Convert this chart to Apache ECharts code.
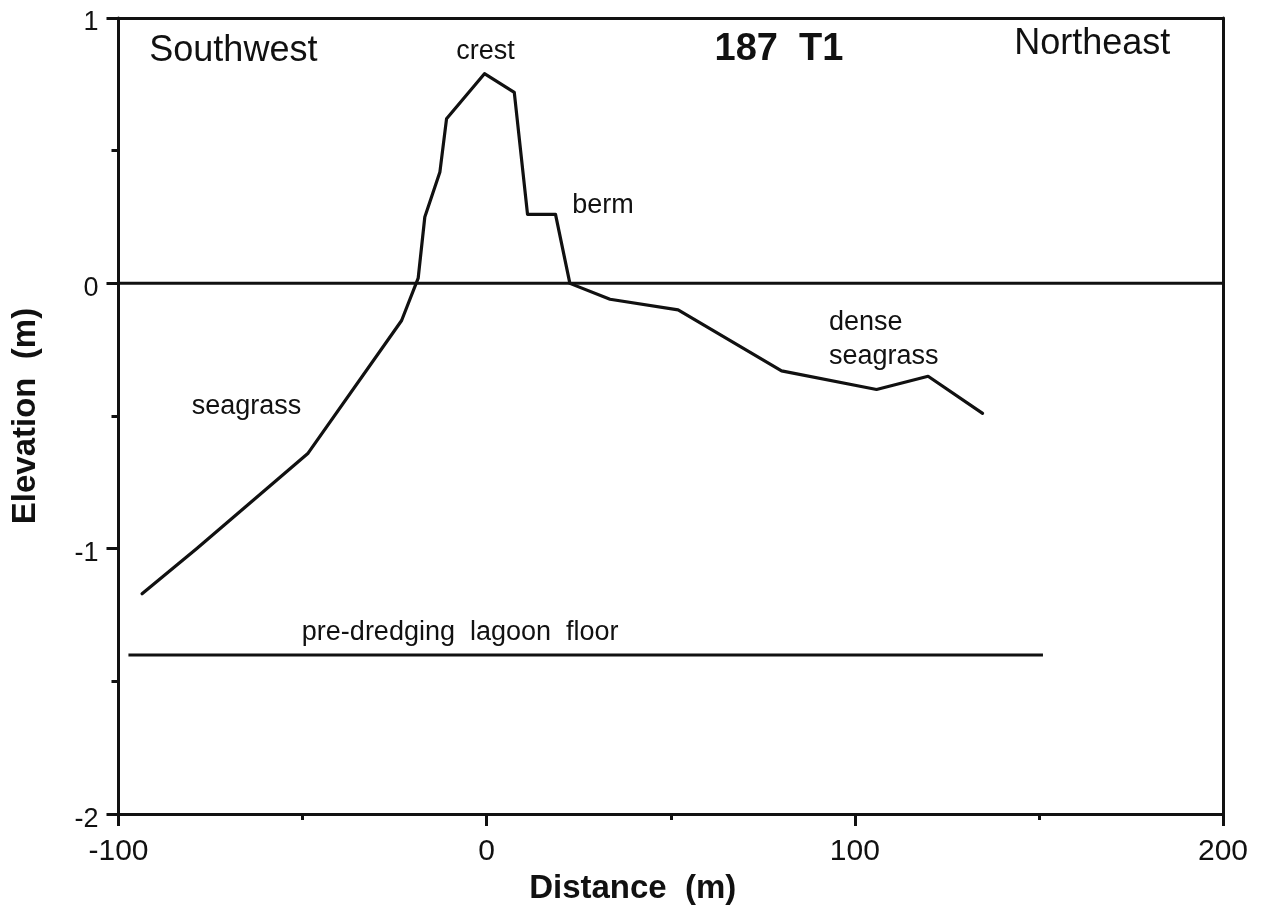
<!DOCTYPE html>
<html>
<head>
<meta charset="utf-8">
<script src="https://cdn.jsdelivr.net/npm/echarts@6/dist/echarts.min.js"></script>
<style>
  html, body { margin: 0; padding: 0; background: #ffffff; }
  #chart { width: 1270px; height: 910px; }
</style>
</head>
<body>
<div id="chart"></div>
<script>
// Transect 187 T1: surveyed elevation (m) against distance (m) along the profile
const profileDistance = [-93.6, -78.8, -48.5, -23.1, -18.6, -16.8, -12.7, -10.9, -0.6, 7.5, 11.1, 18.7, 22.6, 33.5, 52.0, 80.1, 105.9, 119.9, 134.7];
const profileElevation = [-1.17, -1.0, -0.64, -0.14, 0.02, 0.25, 0.42, 0.62, 0.79, 0.72, 0.26, 0.26, 0.0, -0.06, -0.10, -0.33, -0.40, -0.35, -0.49];

// Lagoon floor before dredging
const floorDistance = [-97.3, 151.1];
const floorElevation = [-1.4, -1.4];

// Still-water reference level
const datumDistance = [-100, 200];
const datumElevation = [0, 0];

// Axis ranges and tick steps
const xRange = [-100, 200];
const xStep = 100;
const yRange = [-2, 1];
const yStep = 1;

// Annotations placed in data coordinates
const noteText = ['Southwest', 'crest', '187  T1', 'Northeast', 'berm', 'dense', 'seagrass', 'seagrass', 'pre-dredging  lagoon  floor'];
const noteDistance = [-68.8, -0.3, 79.4, 164.5, 31.6, 93.0, 93.0, -80.1, -50.2];
const noteElevation = [0.876, 0.875, 0.880, 0.900, 0.295, -0.146, -0.277, -0.465, -1.315];

const INK = '#111111';
const FONT = '"Liberation Sans", Arial, Helvetica, sans-serif';

function pairs(xs, ys) { return xs.map((x, i) => [x, ys[i]]); }

function noteLabel(text) {
  if (text === 'Southwest' || text === 'Northeast') {
    return { fontSize: 36, fontWeight: 'normal', align: 'center' };
  }
  if (text === '187  T1') {
    return { fontSize: 38, fontWeight: 'bold', align: 'center' };
  }
  if (text === 'crest' || text === 'berm') {
    return { fontSize: 27, fontWeight: 'normal', align: 'center' };
  }
  return { fontSize: 27, fontWeight: 'normal', align: 'left' };
}

const noteData = noteText.map((t, i) => {
  const s = noteLabel(t);
  return {
    value: [noteDistance[i], noteElevation[i]],
    name: t,
    label: {
      show: true,
      formatter: t,
      position: [0, 0],
      align: s.align,
      verticalAlign: 'middle',
      fontSize: s.fontSize,
      fontWeight: s.fontWeight,
      fontFamily: FONT,
      color: INK
    }
  };
});

const chart = echarts.init(document.getElementById('chart'), null, { renderer: 'canvas' });

const frameLine = { show: true, onZero: false, lineStyle: { color: INK, width: 3 } };

chart.setOption({
  backgroundColor: '#ffffff',
  animation: false,
  grid: { left: 118.5, right: 47, top: 18, bottom: 90.5, containLabel: false },
  xAxis: [
    {
      type: 'value',
      position: 'bottom',
      min: xRange[0], max: xRange[1], interval: xStep,
      axisLine: frameLine,
      axisTick: { show: true, inside: false, length: 12, lineStyle: { color: INK, width: 3 } },
      minorTick: { show: true, splitNumber: 2, length: 6, lineStyle: { color: INK, width: 3 } },
      splitLine: { show: false },
      axisLabel: { color: INK, fontSize: 30, fontFamily: FONT, margin: 23 },
      name: 'Distance  (m)',
      nameLocation: 'middle',
      nameGap: 50,
      nameTextStyle: { color: INK, fontSize: 33, fontWeight: 'bold', fontFamily: FONT, padding: [0, 76, 0, 0] }
    },
    {
      type: 'value',
      position: 'top',
      min: xRange[0], max: xRange[1], interval: xStep,
      axisLine: frameLine,
      axisTick: { show: false },
      axisLabel: { show: false },
      splitLine: { show: false }
    }
  ],
  yAxis: [
    {
      type: 'value',
      position: 'left',
      min: yRange[0], max: yRange[1], interval: yStep,
      axisLine: frameLine,
      axisTick: { show: true, inside: false, length: 12, lineStyle: { color: INK, width: 3 } },
      minorTick: { show: true, splitNumber: 2, length: 7, lineStyle: { color: INK, width: 3 } },
      splitLine: { show: false },
      axisLabel: {
        margin: 20,
        formatter: '{v|{value}}',
        rich: { v: { color: INK, fontSize: 27, fontFamily: FONT, padding: [10, 0, 0, 0] } }
      },
      name: 'Elevation  (m)',
      nameLocation: 'middle',
      nameGap: 76,
      nameTextStyle: { color: INK, fontSize: 33, fontWeight: 'bold', fontFamily: FONT }
    },
    {
      type: 'value',
      position: 'right',
      min: yRange[0], max: yRange[1], interval: yStep,
      axisLine: frameLine,
      axisTick: { show: false },
      axisLabel: { show: false },
      splitLine: { show: false }
    }
  ],
  series: [
    {
      name: 'datum',
      type: 'line',
      data: pairs(datumDistance, datumElevation),
      symbol: 'none',
      silent: true,
      lineStyle: { color: INK, width: 3 }
    },
    {
      name: 'pre-dredging lagoon floor',
      type: 'line',
      data: pairs(floorDistance, floorElevation),
      symbol: 'none',
      silent: true,
      lineStyle: { color: INK, width: 3 }
    },
    {
      name: 'profile',
      type: 'line',
      data: pairs(profileDistance, profileElevation),
      symbol: 'none',
      silent: true,
      lineStyle: { color: INK, width: 3.2, join: 'round', cap: 'round' }
    },
    {
      name: 'notes',
      type: 'scatter',
      data: noteData,
      symbolSize: 0,
      silent: true,
      itemStyle: { opacity: 1 },
      label: { opacity: 1 }
    }
  ]
});
</script>
</body>
</html>
